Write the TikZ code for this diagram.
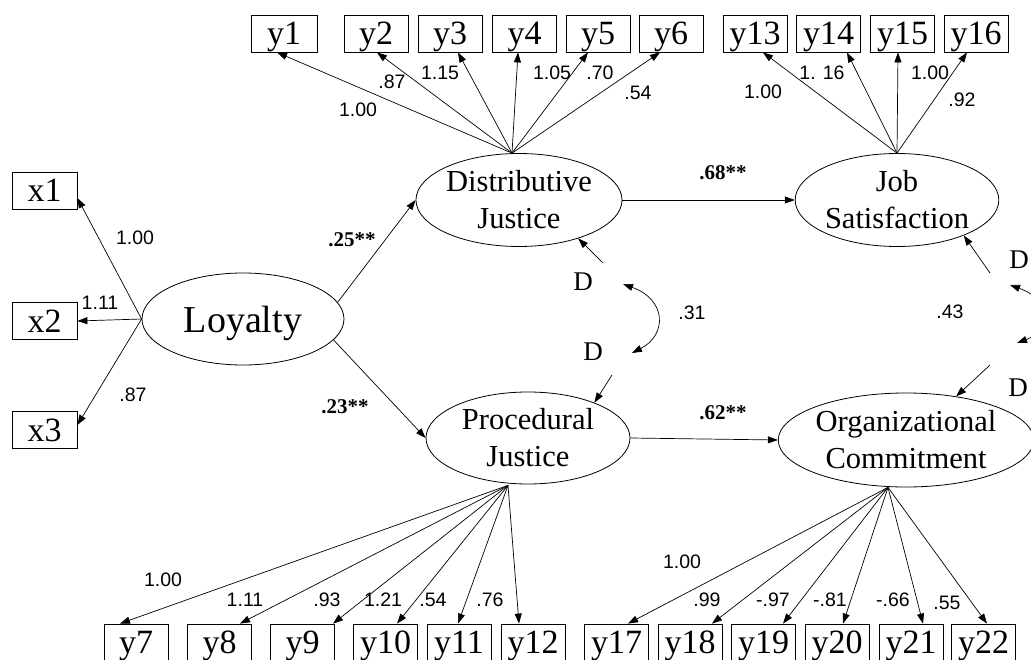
\documentclass[tikz,border=0pt]{standalone}
\usepackage{fontspec}
\setmainfont{Liberation Serif}
\newfontfamily\labfont{Liberation Sans}
\usetikzlibrary{shapes.geometric,arrows.meta,calc}
\tikzset{
  obs/.style={draw, rectangle, minimum width=64pt, minimum height=37pt, inner sep=0pt, text depth=0pt, font=\fontsize{34}{34}\selectfont, line width=0.8pt},
  lat/.style={draw, ellipse, inner sep=0pt, align=center, font=\fontsize{30.5}{37}\selectfont, line width=0.8pt},
  coef/.style={inner sep=0pt, font=\labfont\fontsize{19.5}{21}\selectfont},
  bcoef/.style={inner sep=0pt, font=\bfseries\fontsize{21}{23}\selectfont},
  dlab/.style={inner sep=0pt, font=\fontsize{27}{27}\selectfont},
  arr/.style={-{Triangle[length=10pt,width=7pt]}, line width=0.7pt},
  darr/.style={{Triangle[length=10pt,width=7pt]}-{Triangle[length=10pt,width=7pt]}, line width=0.7pt}
}
\begin{document}
\begin{tikzpicture}[x=1pt,y=-1pt]
\useasboundingbox (0,0) rectangle (1031,660);
\fill[white] (0,0) rectangle (1031,660);
\clip (0,0) rectangle (1031,660);

% latent variables
\node[lat, minimum width=202pt, minimum height=92pt, text depth=0pt, font=\fontsize{38}{38}\selectfont] (LO) at (243,319) {Loyalty};
\node[lat, minimum width=202pt, minimum height=93pt] (DJ) at (519,200) {Distributive\\Justice};
\node[lat, minimum width=204pt, minimum height=92pt] (PJ) at (528,438) {Procedural\\Justice};
\node[lat, minimum width=203pt, minimum height=93pt] (JS) at (897,200) {Job\\Satisfaction};
\node[lat, minimum width=203pt, minimum height=94pt] (OC) at (906,440) {Organizational\\Commitment};

% observed variables: left
\node[obs, minimum width=65pt] (x1) at (44.5,190.5) {x1};
\node[obs, minimum width=65pt] (x2) at (44.5,321) {x2};
\node[obs, minimum width=65pt] (x3) at (44.5,430) {x3};

% top
\node[obs, minimum width=66pt] (y1) at (284,33.5) {y1};
\node[obs] (y2) at (376,33.5) {y2};
\node[obs] (y3) at (450,33.5) {y3};
\node[obs] (y4) at (524.5,33.5) {y4};
\node[obs] (y5) at (598,33.5) {y5};
\node[obs] (y6) at (671,33.5) {y6};
\node[obs] (y13) at (755,33.5) {y13};
\node[obs] (y14) at (828.5,33.5) {y14};
\node[obs] (y15) at (902.5,33.5) {y15};
\node[obs] (y16) at (976,33.5) {y16};

% bottom
\node[obs] (y7) at (136,642.5) {y7};
\node[obs] (y8) at (219.5,642.5) {y8};
\node[obs] (y9) at (302.5,642.5) {y9};
\node[obs] (y10) at (385.5,642.5) {y10};
\node[obs] (y11) at (459,642.5) {y11};
\node[obs] (y12) at (533,642.5) {y12};
\node[obs] (y17) at (616.5,642.5) {y17};
\node[obs] (y18) at (690,642.5) {y18};
\node[obs] (y19) at (763.5,642.5) {y19};
\node[obs] (y20) at (837,642.5) {y20};
\node[obs] (y21) at (911,642.5) {y21};
\node[obs] (y22) at (983.5,642.5) {y22};

% loading sources
\coordinate (djtop) at ($(DJ.north)+(-7,0)$);
\coordinate (pjbot) at ($(PJ.south)+(-20,1)$);
\coordinate (ocbot) at ($(OC.south)+(-18,0)$);

% Loyalty loadings
\draw[arr] (LO.west) -- ($(x1.east)+(0,7.5)$);
\draw[arr] (LO.west) -- (x2.east);
\draw[arr] (LO.west) -- ($(x3.east)+(0,-5)$);

% DJ loadings
\foreach \b/\dx in {y1/-7, y2/1, y3/8, y4/-6.5, y5/-10, y6/-11}
  \draw[arr] (djtop) -- ($(\b.south)+(\dx,0)$);
% JS loadings
\foreach \b/\dx in {y13/8, y14/18.5, y15/-4.5, y16/-9}
  \draw[arr] (JS.north) -- ($(\b.south)+(\dx,0)$);
% PJ loadings
\foreach \b/\dx in {y7/-16, y8/20.5, y9/30.5, y10/11.5, y11/-1, y12/-14}
  \draw[arr] (pjbot) -- ($(\b.north)+(\dx,0)$);
% OC loadings
\foreach \b/\dx in {y17/11.5, y18/22, y19/19.5, y20/6, y21/12, y22/3.5}
  \draw[arr] (ocbot) -- ($(\b.north)+(\dx,0)$);

% structural paths
\draw[arr] (LO.10) -- (DJ.west);
\draw[arr] (LO.-13) -- (PJ.west);
\draw[arr] (DJ.east) -- (JS.west);
\draw[arr] (PJ.east) -- (OC.west);

% disturbances
\node[dlab] (D1) at (583,282) {D};
\node[dlab] (D2) at (593,352) {D};
\node[dlab] (D3) at (1019,260) {D};
\node[dlab] (D4) at (1018,388) {D};
\coordinate (d1s) at (603,263);
\coordinate (d2s) at (612,375);
\coordinate (d3s) at (990,273);
\coordinate (d4s) at (990,365);
\draw[arr] (d1s) -- (DJ.-33);
\draw[arr] (d2s) -- (PJ.28);
\draw[arr] (d3s) -- (JS.-28);
\draw[arr] (d4s) -- (OC.41);
\coordinate (c1a) at (623,284);
\coordinate (c1b) at (632,353);
\coordinate (c2a) at (1010,285);
\coordinate (c2b) at (1017,343);
\draw[darr] (c1a) .. controls (667,300) and (667,335) .. (c1b);
\draw[darr] (c2a) .. controls (1052,300) and (1052,330) .. (c2b);

% coefficient labels
\node[coef] (t1) at (358,110) {1.00};
\node[coef] (t2) at (392,82) {.87};
\node[coef] (t3) at (440,73) {1.15};
\node[coef] (t4) at (552,73) {1.05};
\node[coef] (t5) at (600,73) {.70};
\node[coef] (t6) at (638,93) {.54};
\node[coef] (t13) at (763,92) {1.00};
\node[coef] (t14) at (822,73) {1. 16};
\node[coef] (t15) at (930,73) {1.00};
\node[coef] (t16) at (962,100) {.92};
\node[coef] (tx1) at (135,238) {1.00};
\node[coef] (tx2) at (100,303) {1.11};
\node[coef] (tx3) at (133,395) {.87};
\node[coef] (t7) at (163,580) {1.00};
\node[coef] (t8) at (245,600) {1.11};
\node[coef] (t9) at (327,600) {.93};
\node[coef] (t10) at (383,600) {1.21};
\node[coef] (t11) at (433,600) {.54};
\node[coef] (t12) at (490,600) {.76};
\node[coef] (t17) at (682,562) {1.00};
\node[coef] (t18) at (707,600) {.99};
\node[coef] (t19) at (773,600) {-.97};
\node[coef] (t20) at (830,600) {-.81};
\node[coef] (t21) at (893,600) {-.66};
\node[coef] (t22) at (947,603) {.55};
\node[coef] (r31) at (692,313) {.31};
\node[coef] (r43) at (950,312) {.43};
\node[bcoef] (b25) at (352,240) {.25**};
\node[bcoef] (b23) at (345,407) {.23**};
\node[bcoef] (b68) at (723,173) {.68**};
\node[bcoef] (b62) at (723,413) {.62**};
\end{tikzpicture}
\end{document}
